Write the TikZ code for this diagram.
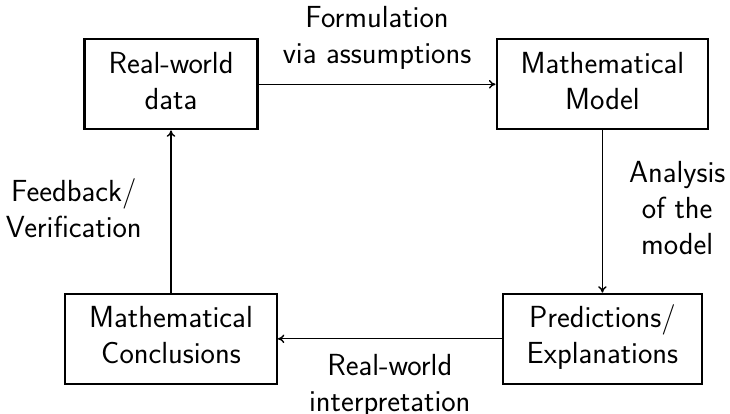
\documentclass[tikz,border=0pt]{standalone}
\usetikzlibrary{arrows.meta}
\begin{document}
\begin{tikzpicture}[x=1pt,y=1pt,
  every node/.style={font=\sffamily\fontsize{30.5}{36}\selectfont},
  box/.style={draw, line width=2.2pt, align=center, inner xsep=24pt, inner ysep=9pt},
  conn/.style={-{To[length=6.5pt,width=8.5pt,line width=1.4pt]}, line width=1.3pt},
  lbl/.style={align=center, inner sep=0pt}]
\useasboundingbox (0,0) rectangle (730,414);
\node[box] (rw) at (171,329.7) {\strut Real-world\\\strut data};
\node[box] (mm) at (602.4,329.7) {\strut Mathematical\\\strut Model};
\node[box] (mc) at (171,75.2) {\strut Mathematical\\\strut Conclusions};
\node[box] (pe) at (602.4,75.2) {\strut Predictions/\\\strut Explanations};
\draw[conn] (rw) -- node[lbl, above=14.1pt] (l1) {Formulation\\via assumptions} (mm);
\draw[conn] (mm) -- node[lbl, right=26pt, yshift=3.8pt] (l2) {Analysis\\of the\\model} (pe);
\draw[conn] (pe) -- node[lbl, below=14.4pt] (l3) {Real-world\\interpretation} (mc);
\draw[conn] (mc) -- node[lbl, left=28.7pt, yshift=3.5pt] (l4) {Feedback/\\Verification} (rw);
\end{tikzpicture}
\end{document}
